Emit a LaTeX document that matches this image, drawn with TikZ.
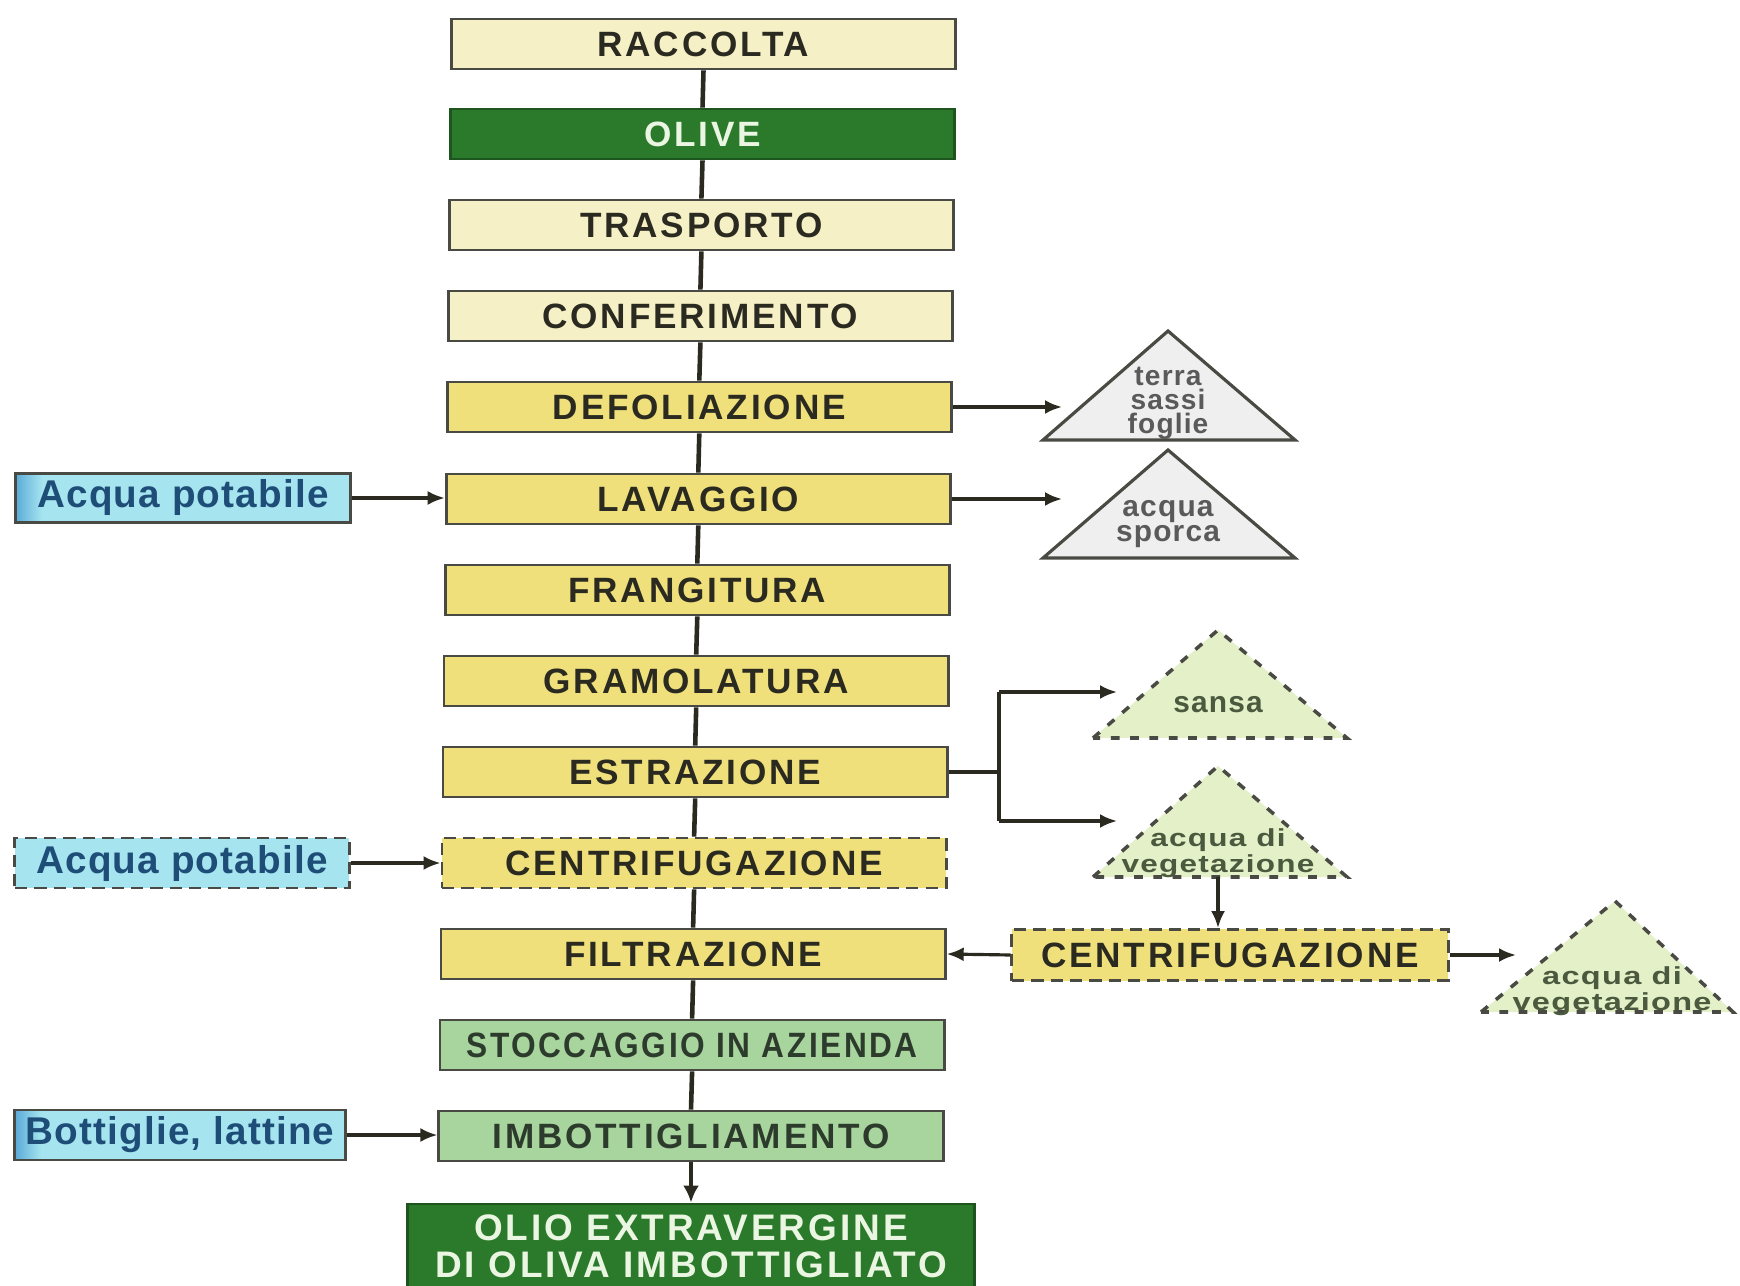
\documentclass[tikz,border=0pt]{standalone}
\usepackage{fontspec}
\setmainfont{Liberation Sans}
\newfontfamily\boxfont{Liberation Sans}[LetterSpace=8]
\newfontfamily\sidefont{Liberation Sans}[LetterSpace=3]
\newfontfamily\trifont{Liberation Sans}[LetterSpace=4]
\usepackage{graphicx}
\usetikzlibrary{arrows.meta,calc}
\definecolor{cream}{HTML}{F5F0C6}
\definecolor{yel}{HTML}{EFE07C}
\definecolor{lgreen}{HTML}{A8D49E}
\definecolor{dgreen}{HTML}{2B7A2B}
\definecolor{cyanfill}{HTML}{A6E5EF}
\definecolor{bluedark}{HTML}{5AAAD8}
\definecolor{bluetext}{HTML}{1E4E78}
\definecolor{edge}{HTML}{4A4A44}
\definecolor{txt}{HTML}{2B2A20}
\definecolor{gtxt}{HTML}{2D3B2D}
\definecolor{trigray}{HTML}{EFEFEF}
\definecolor{trigreen}{HTML}{E3F0C8}
\definecolor{tritext}{HTML}{5A5A5A}
\definecolor{trigtext}{HTML}{4B5A3E}
\definecolor{wtext}{HTML}{EAF6E2}
\pgfdeclarehorizontalshading{sideshade}{100bp}{color(0bp)=(bluedark); color(25bp)=(bluedark); color(29bp)=(cyanfill); color(100bp)=(cyanfill)}
\tikzset{
  mainbox/.style={draw=edge, line width=0.8pt, minimum width=5.04cm, minimum height=0.5cm,
    inner sep=0pt, text=txt, font=\boxfont\bfseries\fontsize{10}{12}\selectfont},
  creambox/.style={mainbox, fill=cream},
  yelbox/.style={mainbox, fill=yel},
  greenbox/.style={mainbox, fill=lgreen, text=gtxt},
  darkbox/.style={mainbox, fill=dgreen, draw=dgreen!70!black, text=wtext},
  sidebox/.style={draw=edge, line width=0.8pt, fill=cyanfill, minimum height=0.49cm,
    inner sep=0pt, text=bluetext, font=\sidefont\bfseries\fontsize{11}{13}\selectfont},
  grad/.style={shading=sideshade},
  dashedge/.style={dash pattern=on 3.5pt off 2pt},
  link/.style={draw=txt, line width=1.3pt},
  sideline/.style={draw=txt, line width=0.9pt},
  arr/.style={draw=txt, line width=0.9pt, -{Latex[length=0.17cm,width=0.14cm]}},
  tri/.style={draw=edge, line width=0.9pt, fill=trigray, line join=miter},
  trid/.style={draw=edge, line width=1pt, fill=trigreen, dash pattern=on 2.5pt off 3pt},
  tlabel/.style={inner sep=0pt, align=center, text=tritext,
    font=\trifont\bfseries\fontsize{8}{6.8}\selectfont},
  glabel/.style={inner sep=0pt, align=center, text=trigtext,
    font=\trifont\bfseries\fontsize{7}{5.2}\selectfont},
}
\begin{document}
\begin{tikzpicture}[x=0.01cm, y=-0.01cm]
\useasboundingbox (0,0) rectangle (1740,1286);
\fill[white] (0,0) rectangle (1740,1286);

% main column
\node[creambox] (racc) at (703.5,44) {RACCOLTA};
\node[darkbox] (olive) at (702.5,134) {OLIVE};
\node[creambox] (trasp) at (701.4,225) {TRASPORTO};
\node[creambox] (conf) at (700.4,316) {CONFERIMENTO};
\node[yelbox] (defo) at (699.3,407) {DEFOLIAZIONE};
\node[yelbox] (lav) at (698.3,499) {LAVAGGIO};
\node[yelbox] (frang) at (697.3,590) {FRANGITURA};
\node[yelbox] (gram) at (696.2,681) {GRAMOLATURA};
\node[yelbox] (estr) at (695.2,772) {ESTRAZIONE};
\node[yelbox, dashedge] (centr) at (694.1,863) {CENTRIFUGAZIONE};
\node[yelbox] (filtr) at (693.1,954) {FILTRAZIONE};
\node[greenbox] (stocc) at (692.1,1045) {\scalebox{0.9}[1]{STOCCAGGIO IN AZIENDA}};
\node[greenbox] (imbot) at (691,1136) {IMBOTTIGLIAMENTO};
\node[darkbox, minimum width=5.66cm, minimum height=0.84cm, align=center,
  font=\boxfont\bfseries\fontsize{10.5}{10.5}\selectfont] (olio) at (691,1246)
  {OLIO EXTRAVERGINE\\DI OLIVA IMBOTTIGLIATO};

\draw[link] (racc.south) -- (olive.north);
\draw[link] (olive.south) -- (trasp.north);
\draw[link] (trasp.south) -- (conf.north);
\draw[link] (conf.south) -- (defo.north);
\draw[link] (defo.south) -- (lav.north);
\draw[link] (lav.south) -- (frang.north);
\draw[link] (frang.south) -- (gram.north);
\draw[link] (gram.south) -- (estr.north);
\draw[link] (estr.south) -- (centr.north);
\draw[link] (centr.south) -- (filtr.north);
\draw[link] (filtr.south) -- (stocc.north);
\draw[link] (stocc.south) -- (imbot.north);
\draw[link, -{Latex[length=0.17cm,width=0.16cm]}] (imbot.south) -- (olio.north);

% left inputs
\node[sidebox, grad, minimum width=3.35cm] (ap1) at (183,498) {Acqua potabile};
\node[sidebox, dashedge, minimum width=3.34cm, minimum height=0.5cm] (ap2) at (182,863) {Acqua potabile};
\node[sidebox, grad, minimum width=3.30cm, minimum height=0.5cm] (bott) at (180,1135) {Bottiglie, lattine};
\draw[arr] (ap1.east) -- (ap1.east -| lav.west);
\draw[arr] (ap2.east) -- (ap2.east -| centr.west);
\draw[arr] (bott.east) -- (bott.east -| imbot.west);

% triangle 1: terra sassi foglie
\coordinate (t1l) at (1043,440);
\coordinate (t1a) at (1168,331);
\coordinate (t1r) at (1295,440);
\draw[tri] (t1l) -- (t1a) -- (t1r) -- cycle;
\node[tlabel] (t1) at (1168,403) {terra\\sassi\\foglie};
\coordinate (t1in) at (1062,407);
\draw[arr] (defo.east) -- (t1in);

% triangle 2: acqua sporca
\coordinate (t2l) at (1043,558);
\coordinate (t2a) at (1168,450);
\coordinate (t2r) at (1295,558);
\draw[tri] (t2l) -- (t2a) -- (t2r) -- cycle;
\node[tlabel, font=\trifont\bfseries\fontsize{8.5}{6}\selectfont] (t2) at (1168,524) {acqua\\sporca};
\coordinate (t2in) at (1062,499);
\draw[arr] (lav.east) -- (t2in);

% estrazione split
\coordinate (split) at (999,772);
\coordinate (sTop) at (999,692);
\coordinate (sBot) at (999,821);
\coordinate (sansaIn) at (1117,692);
\coordinate (vegIn) at (1117,821);
\draw[sideline] (estr.east) -- (split);
\draw[sideline] (sTop) -- (sBot);
\draw[arr] (sTop) -- (sansaIn);
\draw[arr] (sBot) -- (vegIn);

% triangle 3: sansa
\coordinate (t3l) at (1093,738);
\coordinate (t3a) at (1218,630);
\coordinate (t3r) at (1347,738);
\draw[trid] (t3l) -- (t3a) -- (t3r) -- cycle;
\node[glabel, font=\trifont\bfseries\fontsize{8.5}{8}\selectfont] (t3) at (1218,705) {sansa};

% triangle 4: acqua di vegetazione
\coordinate (t4l) at (1093,877);
\coordinate (t4a) at (1218,766);
\coordinate (t4r) at (1347,877);
\coordinate (t4b) at (1218,877);
\draw[trid] (t4l) -- (t4a) -- (t4r) -- cycle;
\node[glabel] (t4) at (1218,853) {\scalebox{1.28}[1]{acqua di}\\\scalebox{1.28}[1]{vegetazione}};

% second centrifugation
\node[yelbox, dashedge, minimum width=4.36cm, minimum height=0.51cm] (c2) at (1230,955) {CENTRIFUGAZIONE};
\draw[arr] (t4b) -- (t4b |- c2.north);
\draw[arr] (c2.west) -- (filtr.east);

% triangle 5: acqua di vegetazione
\coordinate (t5l) at (1481,1012);
\coordinate (t5a) at (1615,901);
\coordinate (t5r) at (1733,1012);
\draw[trid] (t5l) -- (t5a) -- (t5r) -- cycle;
\node[glabel] (t5) at (1612,991) {\scalebox{1.32}[1]{acqua di}\\\scalebox{1.32}[1]{vegetazione}};
\coordinate (t5in) at (1516,955);
\draw[arr] (c2.east) -- (t5in);
\end{tikzpicture}
\end{document}
